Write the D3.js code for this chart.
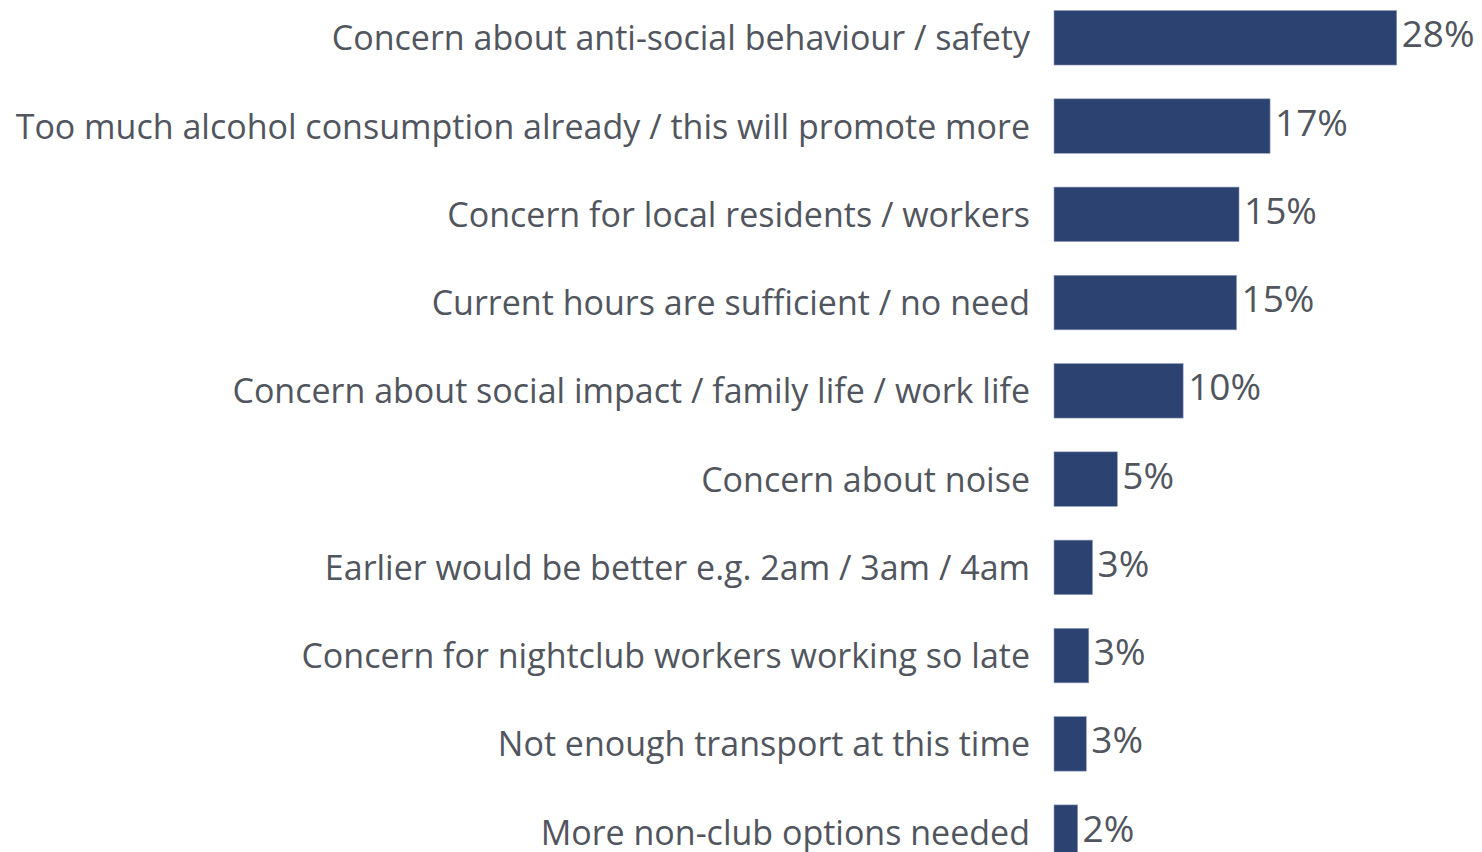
<!DOCTYPE html>
<html>
<head>
<meta charset="utf-8">
<script src="https://cdn.jsdelivr.net/npm/d3@7"></script>
<style>
  html, body { margin: 0; padding: 0; background: #ffffff; }
  svg { display: block; }
</style>
</head>
<body>
<svg id="chart" width="1482" height="852"></svg>
<script>
const categories = [
  "Concern about anti-social behaviour / safety",
  "Too much alcohol consumption already / this will promote more",
  "Concern for local residents / workers",
  "Current hours are sufficient / no need",
  "Concern about social impact / family life / work life",
  "Concern about noise",
  "Earlier would be better e.g. 2am / 3am / 4am",
  "Concern for nightclub workers working so late",
  "Not enough transport at this time",
  "More non-club options needed"
];
const values = [27.6, 17.4, 14.9, 14.7, 10.4, 5.1, 3.1, 2.8, 2.6, 1.9];
const valueLabels = ["28%", "17%", "15%", "15%", "10%", "5%", "3%", "3%", "3%", "2%"];

const W = 1482, H = 852;
const svg = d3.select("#chart");

const x0 = 1054;
const x = d3.scaleLinear().domain([0, 27.6]).range([x0, 1396.7]);

const step = 88.26;
const y = d3.scaleBand()
  .domain(categories)
  .range([37.8 - step / 2, 37.8 - step / 2 + step * categories.length])
  .paddingInner(0.383)
  .paddingOuter(0.1915);

const data = categories.map((c, i) => ({ c, v: values[i], l: valueLabels[i] }));

svg.selectAll("rect.bar")
  .data(data)
  .join("rect")
  .attr("class", "bar")
  .attr("x", x(0))
  .attr("y", d => y(d.c))
  .attr("width", d => x(d.v) - x(0))
  .attr("height", y.bandwidth())
  .attr("fill", "#2c4271")
  .attr("stroke", "#8a99b8")
  .attr("stroke-width", 0.6);

svg.selectAll("text.cat")
  .data(data)
  .join("text")
  .attr("class", "cat")
  .attr("x", 1030)
  .attr("y", d => y(d.c) + y.bandwidth() / 2 + 12.5)
  .attr("text-anchor", "end")
  .attr("font-family", "'Open Sans', sans-serif")
  .attr("font-size", 34)
  .attr("fill", "#51555e")
  .text(d => d.c);

svg.selectAll("text.val")
  .data(data)
  .join("text")
  .attr("class", "val")
  .attr("x", d => x(d.v) + 5)
  .attr("y", d => y(d.c) + y.bandwidth() / 2 + 9.5)
  .attr("text-anchor", "start")
  .attr("font-family", "'Open Sans', sans-serif")
  .attr("font-size", 37)
  .attr("fill", "#51555e")
  .text(d => d.l);
</script>
</body>
</html>
